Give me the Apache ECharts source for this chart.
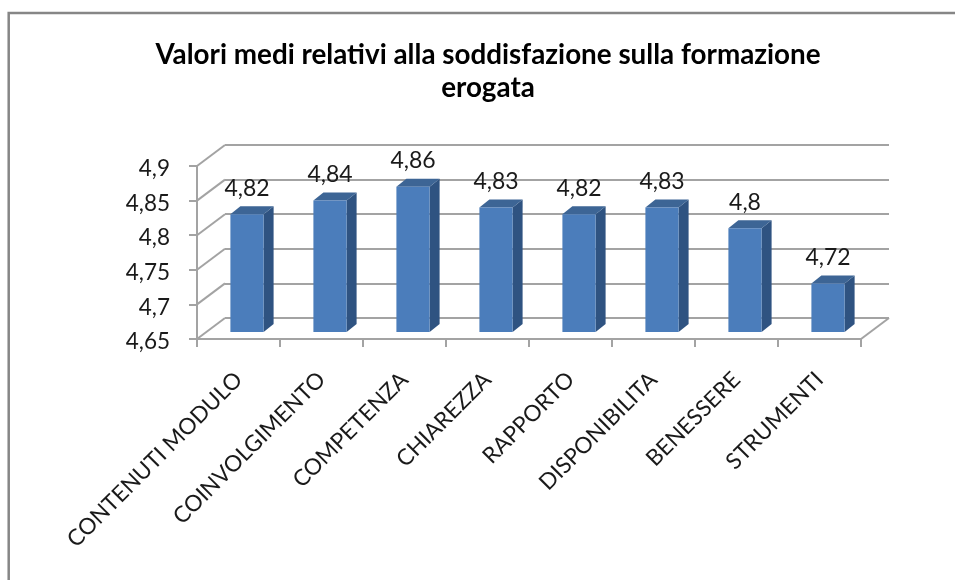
<!DOCTYPE html>
<html>
<head>
<meta charset="utf-8">
<title>Valori medi</title>
<script src="https://cdn.jsdelivr.net/npm/echarts@6/dist/echarts.min.js"></script>
<style>
  html, body { margin: 0; padding: 0; background: #fff; }
  #chart { width: 955px; height: 580px; }
</style>
</head>
<body>
<div id="chart"></div>
<script>
const titleText = "Valori medi relativi alla soddisfazione sulla formazione\nerogata";
const categories = ["CONTENUTI MODULO", "COINVOLGIMENTO", "COMPETENZA", "CHIAREZZA", "RAPPORTO", "DISPONIBILITA", "BENESSERE", "STRUMENTI"];
const values = [4.82, 4.84, 4.86, 4.83, 4.82, 4.83, 4.8, 4.72];
const yTicks = [4.65, 4.7, 4.75, 4.8, 4.85, 4.9];

const fontName = "Lato";
const lineColor = "#a3a3a3";
const depthX = 28, depthY = 21; // chart floor depth in px
const comma = (v) => String(+(+v).toFixed(2)).replace(".", ",");

const chart = echarts.init(document.getElementById("chart"));

// side wall and floor lines going back from the front axes
function renderWall(params, api) {
  const sys = params.coordSys;
  const y = api.coord([0, api.value(1)])[1];
  const lines = [{
    type: "line",
    shape: { x1: sys.x, y1: y, x2: sys.x + depthX, y2: y - depthY },
    style: { stroke: lineColor, lineWidth: 2 }
  }];
  if (params.dataIndex === 0) {
    lines.push({
      type: "line",
      shape: { x1: sys.x + sys.width, y1: y, x2: sys.x + sys.width + depthX, y2: y - depthY },
      style: { stroke: lineColor, lineWidth: 2 }
    });
  }
  return { type: "group", children: lines };
}

// fake 3d bar: front, top and side faces
function renderBar(params, api) {
  const top = api.coord([api.value(0), api.value(1)]);
  const base = api.coord([api.value(0), 4.65]);
  const w = api.size([1, 0])[0] * 0.4;
  const x0 = top[0] - w / 2 + 8.5, x1 = x0 + w;
  const yT = top[1] - 7, yB = base[1] - 7;
  const dx = 10, dy = 8;
  return {
    type: "group",
    children: [
      { type: "polygon", shape: { points: [[x1, yT], [x1 + dx, yT - dy], [x1 + dx, yB - dy], [x1, yB]] }, style: { fill: "#2f5381" } },
      { type: "polygon", shape: { points: [[x0, yT], [x0 + dx, yT - dy], [x1 + dx, yT - dy], [x1, yT]] }, style: { fill: "#3d6595" } },
      { type: "rect", shape: { x: x0, y: yT, width: w, height: yB - yT }, style: { fill: "#4b7dbb" } },
      {
        type: "text",
        x: x0 + w / 2,
        y: yT - 26,
        style: {
          text: comma(api.value(1)),
          font: "23px " + fontName,
          fill: "#1a1a1a",
          align: "center",
          verticalAlign: "middle"
        }
      }
    ]
  };
}

chart.setOption({
  backgroundColor: "#fff",
  animation: false,
  textStyle: { fontFamily: fontName },
  title: {
    text: titleText,
    left: 483,
    top: 34,
    textAlign: "center",
    textStyle: { fontFamily: fontName, fontSize: 27.8, fontWeight: "bold", color: "#000", lineHeight: 33 }
  },
  graphic: [{
    type: "polyline",
    shape: { points: [[8.7, 580], [8.7, 13], [955, 13]] },
    style: { stroke: "#868686", lineWidth: 2.5, fill: "none" },
    silent: true
  }],
  grid: [
    { left: 197, top: 166, width: 664, height: 173 },
    { left: 225, top: 145, width: 664, height: 173 }
  ],
  xAxis: [
    {
      type: "category",
      gridIndex: 0,
      data: categories,
      axisLine: { lineStyle: { color: lineColor, width: 2 } },
      axisTick: { show: true, alignWithLabel: false, length: 8, lineStyle: { color: lineColor, width: 2 } },
      axisLabel: { interval: 0, rotate: 45, margin: 37, fontSize: 22.5, color: "#1a1a1a", fontFamily: fontName }
    },
    {
      type: "category",
      gridIndex: 1,
      data: categories,
      axisLine: { show: false },
      axisTick: { show: false },
      axisLabel: { show: false }
    }
  ],
  yAxis: [
    {
      type: "value",
      gridIndex: 0,
      min: 4.65,
      max: 4.9,
      interval: 0.05,
      axisLine: { show: true, lineStyle: { color: lineColor, width: 2 } },
      axisTick: { show: true, length: 8, lineStyle: { color: lineColor, width: 2 } },
      axisLabel: { margin: 27, fontSize: 22.5, color: "#1a1a1a", fontFamily: fontName, formatter: comma, verticalAlign: "top", lineHeight: 26, padding: [-10, 0, 0, 0] },
      splitLine: { show: false }
    },
    {
      type: "value",
      gridIndex: 1,
      min: 4.65,
      max: 4.9,
      interval: 0.05,
      axisLine: { show: false },
      axisTick: { show: false },
      axisLabel: { show: false },
      splitLine: { show: true, lineStyle: { color: lineColor, width: 2 } }
    }
  ],
  series: [
    {
      type: "custom",
      xAxisIndex: 0,
      yAxisIndex: 0,
      z: 1,
      renderItem: renderWall,
      encode: { x: 0, y: 1 },
      silent: true,
      data: yTicks.map((v) => [0, v])
    },
    {
      type: "custom",
      xAxisIndex: 0,
      yAxisIndex: 0,
      z: 3,
      renderItem: renderBar,
      encode: { x: 0, y: 1 },
      data: values.map((v, i) => [i, v])
    }
  ]
});
</script>
</body>
</html>
